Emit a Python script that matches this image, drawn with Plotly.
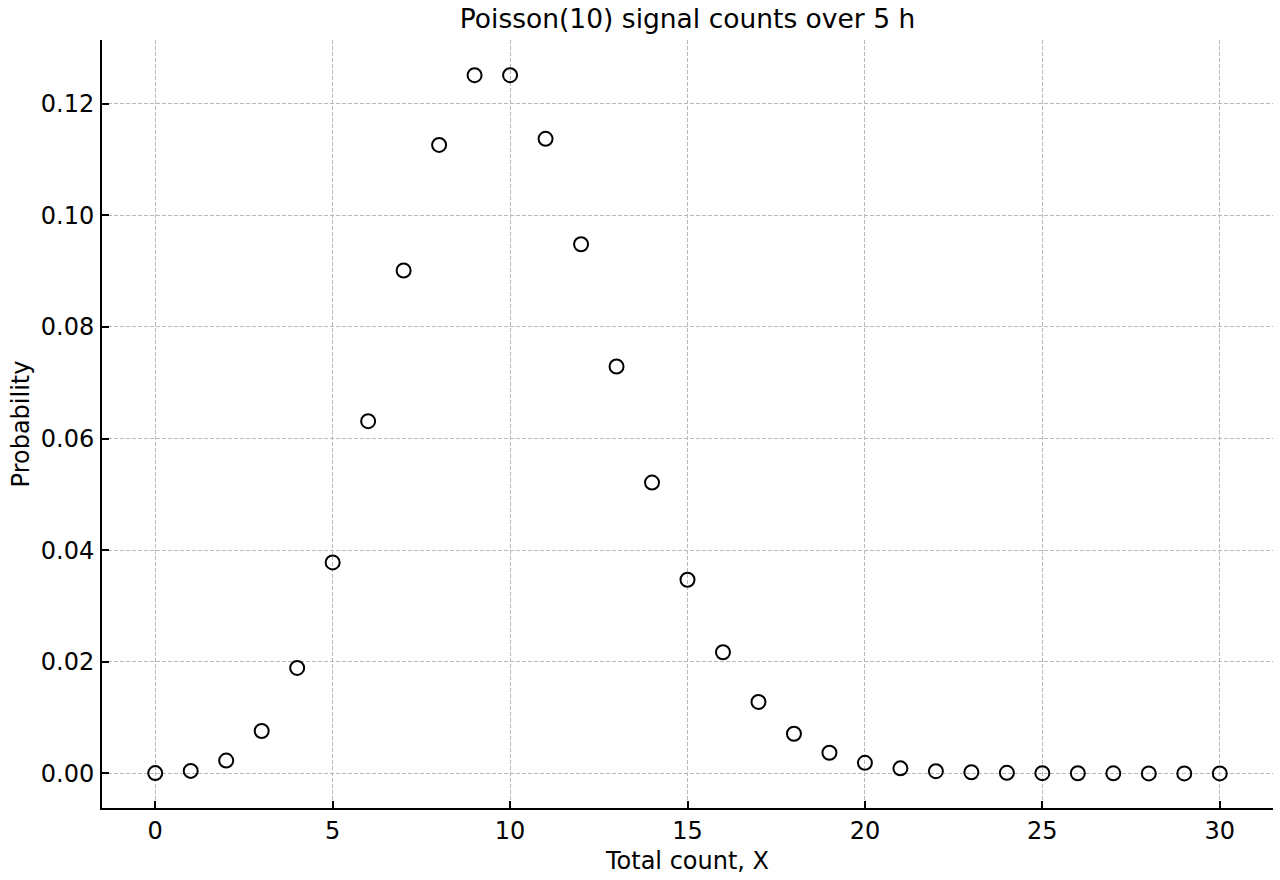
import plotly.graph_objects as go

counts = list(range(0, 31))
probability = [0.00005, 0.00045, 0.0023, 0.0076, 0.0189, 0.0378, 0.0631, 0.0901,
               0.1126, 0.1251, 0.1251, 0.1137, 0.0948, 0.0729, 0.0521, 0.0347,
               0.0217, 0.0128, 0.0071, 0.0037, 0.0019, 0.0009, 0.0004, 0.0002,
               0.0001, 0.00004, 0.00002, 0.00001, 0.0, 0.0, 0.0]
x_ticks = [0, 5, 10, 15, 20, 25, 30]
y_ticks = [0.00, 0.02, 0.04, 0.06, 0.08, 0.10, 0.12]
y_tick_labels = ["0.00", "0.02", "0.04", "0.06", "0.08", "0.10", "0.12"]

FONT = "DejaVu Sans"

fig = go.Figure()
fig.add_trace(go.Scatter(
    x=counts, y=probability, mode="markers",
    marker=dict(symbol="circle-open", size=14, color="black", line=dict(width=2, color="black")),
    showlegend=False, cliponaxis=False,
))

axis_common = dict(
    showline=True, linecolor="black", linewidth=2, mirror=False,
    ticks="inside", ticklen=7, tickwidth=2, tickcolor="black",
    showgrid=True, gridcolor="#b9b9b9", gridwidth=1, griddash="4px,2px",
    zeroline=False, tickfont=dict(family=FONT, size=24, color="black"),
)

fig.update_layout(
    width=1280, height=880,
    margin=dict(l=102, r=7, t=40, b=72),
    plot_bgcolor="white", paper_bgcolor="white",
    font=dict(family=FONT, color="black"),
    title=dict(text="Poisson(10) signal counts over 5 h", x=(102 + 1273) / 2 / 1280, xanchor="center",
               y=1 - 19 / 880, yanchor="middle", yref="container",
               font=dict(family=FONT, size=26.5, color="black")),
    xaxis=dict(range=[-1.5, 31.5], tickvals=x_ticks,
               title=dict(text="Total count, X", font=dict(family=FONT, size=24, color="black"), standoff=8),
               ticklabelstandoff=0, **axis_common),
    yaxis=dict(range=[-0.0062, 0.1314], tickvals=y_ticks, ticktext=y_tick_labels,
               title=dict(text="Probability", font=dict(family=FONT, size=24, color="black"), standoff=4),
               ticklabelstandoff=1, **axis_common),
)

fig.write_html("out.html")
